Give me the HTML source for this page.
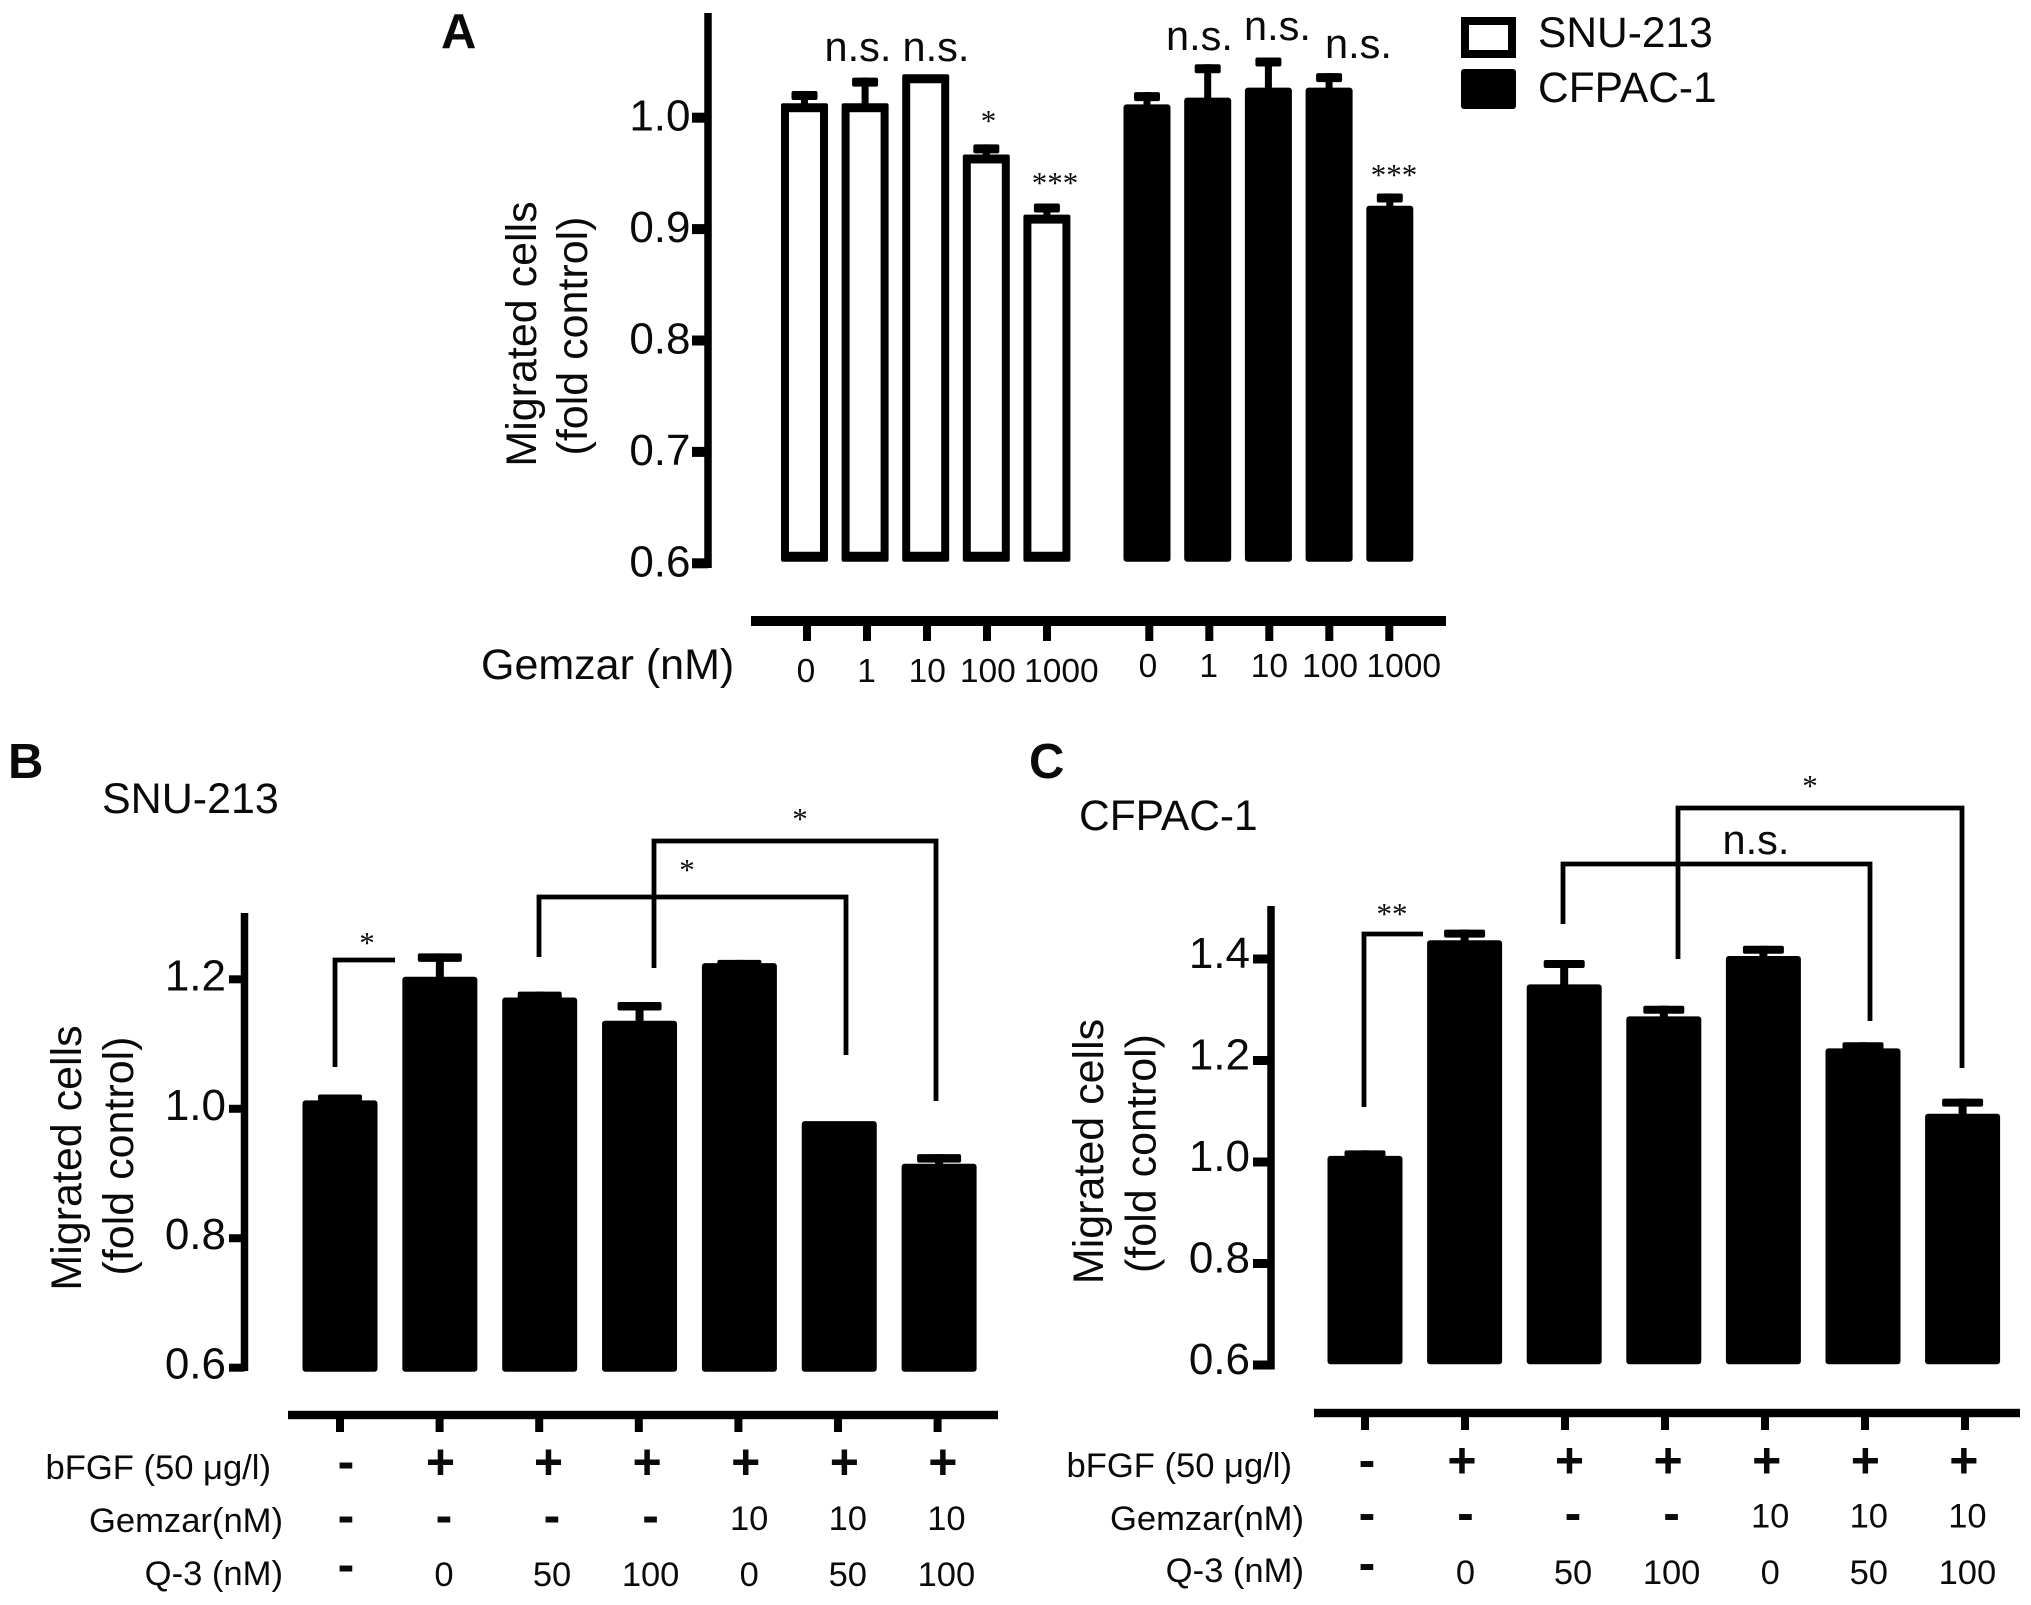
<!DOCTYPE html>
<html lang="en">
<head>
<meta charset="utf-8">
<title>Migrated cells bar charts</title>
<style>
html,body{margin:0;padding:0;background:#fff;}
svg{display:block;}
text{font-family:"Liberation Sans",Arial,sans-serif;fill:#0a0a0a;}
.star{font-family:"Liberation Serif",serif;font-size:31px;text-anchor:middle;}
.ns{font-size:41.5px;text-anchor:middle;}
.ylab{font-size:43px;text-anchor:middle;}
.row{font-size:34.6px;text-anchor:end;}
.br{fill:none;stroke:#000;stroke-width:4.8;}
</style>
</head>
<body>
<svg id="figure" xmlns="http://www.w3.org/2000/svg" width="2031" height="1605" viewBox="0 0 2031 1605">
<rect x="0" y="0" width="2031" height="1605" fill="#fff"/>

<!-- Panel A static text -->
<text x="441" y="48" font-size="49" font-weight="bold">A</text>
<text class="ylab" transform="translate(536,334) rotate(-90)">Migrated cells</text>
<text class="ylab" transform="translate(587,336) rotate(-90)">(fold control)</text>
<text x="481" y="679" font-size="43">Gemzar (nM)</text>
<text class="ns" x="858" y="61">n.s.</text>
<text class="ns" x="936" y="61">n.s.</text>
<text class="ns" x="1199.5" y="50">n.s.</text>
<text class="ns" x="1277.5" y="40">n.s.</text>
<text class="ns" x="1358.5" y="58">n.s.</text>
<text class="star" x="988.5" y="131">*</text>
<text class="star" x="1055" y="193">***</text>
<text class="star" x="1394" y="185">***</text>
<rect x="1465" y="21" width="47" height="33" fill="#fff" stroke="#000" stroke-width="8"/>
<rect x="1461" y="69" width="55" height="40" rx="3" fill="#000"/>
<text x="1538" y="47" font-size="42.5">SNU-213</text>
<text x="1538" y="102" font-size="42.5">CFPAC-1</text>

<!-- Panel B static text -->
<text x="8" y="778" font-size="49" font-weight="bold">B</text>
<text x="102" y="813" font-size="43">SNU-213</text>
<text class="ylab" transform="translate(81,1158) rotate(-90)">Migrated cells</text>
<text class="ylab" transform="translate(133,1156) rotate(-90)">(fold control)</text>
<text class="row" x="271" y="1479">bFGF (50 μg/l)</text>
<text class="row" x="283" y="1532">Gemzar(nM)</text>
<text class="row" x="283" y="1585">Q-3 (nM)</text>
<polyline class="br" points="335,1067 335,960 395,960"/>
<polyline class="br" points="539,957 539,897 846,897 846,1055"/>
<polyline class="br" points="654,968 654,841 936,841 936,1101"/>
<text class="star" x="367" y="953">*</text>
<text class="star" x="687" y="880">*</text>
<text class="star" x="800" y="829">*</text>

<!-- Panel C static text -->
<text x="1029" y="778" font-size="49" font-weight="bold">C</text>
<text x="1079" y="830" font-size="42.5">CFPAC-1</text>
<text class="ylab" transform="translate(1103,1151.5) rotate(-90)">Migrated cells</text>
<text class="ylab" transform="translate(1155.5,1153.5) rotate(-90)">(fold control)</text>
<text class="row" x="1292" y="1477">bFGF (50 μg/l)</text>
<text class="row" x="1304" y="1530">Gemzar(nM)</text>
<text class="row" x="1304" y="1582">Q-3 (nM)</text>
<polyline class="br" points="1364,1107 1364,934 1423,934"/>
<polyline class="br" points="1563,924 1563,864 1870,864 1870,1021"/>
<polyline class="br" points="1678,959 1678,808 1962,808 1962,1068"/>
<text class="star" x="1392" y="924">**</text>
<text class="ns" x="1756" y="854">n.s.</text>
<text class="star" x="1810" y="796">*</text>
</svg>

<script>
// Panel A data
const aDoses = ['0', '1', '10', '100', '1000'];
const aSnu = [1.013, 1.013, 1.039, 0.967, 0.913];
const aSnuErr = [1.024, 1.036, 1.039, 0.976, 0.923];
const aCfpac = [1.012, 1.018, 1.027, 1.027, 0.921];
const aCfpacErr = [1.023, 1.048, 1.054, 1.040, 0.932];
const aTicks = ['0.6', '0.7', '0.8', '0.9', '1.0'];

// Panel B data
const bValues = [1.013, 1.204, 1.172, 1.136, 1.225, 0.981, 0.915];
const bErrors = [1.022, 1.240, 1.181, 1.165, 1.230, 0.981, 0.930];
const bTicks = ['0.6', '0.8', '1.0', '1.2'];

// Panel C data
const cValues = [1.012, 1.437, 1.350, 1.287, 1.406, 1.224, 1.095];
const cErrors = [1.023, 1.458, 1.398, 1.308, 1.426, 1.236, 1.125];
const cTicks = ['0.6', '0.8', '1.0', '1.2', '1.4'];

// Treatment rows shared by panels B and C
const bfgfRow = ['-', '+', '+', '+', '+', '+', '+'];
const gemzarRow = ['-', '-', '-', '-', '10', '10', '10'];
const q3Row = ['-', '0', '50', '100', '0', '50', '100'];

const svg = document.getElementById('figure');
const NS = 'http://www.w3.org/2000/svg';

function shape(tag, attrs) {
  const el = document.createElementNS(NS, tag);
  for (const k in attrs) el.setAttribute(k, attrs[k]);
  
  svg.appendChild(el);
  return el;
}

function drawBar(prefix, i, cx, w, value, err, base, yScale, hollow, capW, capH, stemW) {
  const top = yScale(value);
  const bottom = yScale(base);
  if (err > value) {
    const capTop = yScale(err);
    const stem = shape('rect', {x: cx - stemW / 2, y: capTop, width: stemW, height: top - capTop + 2, fill: '#000'});
    
    const cap = shape('rect', {x: cx - capW / 2, y: capTop, width: capW, height: capH, rx: 2, fill: '#000'});
    
  }
  if (hollow) {
    const outer = shape('rect', {x: cx - w / 2, y: top, width: w, height: bottom - top, rx: 2, fill: '#000'});
    
    const inner = shape('rect', {x: cx - w / 2 + 8, y: top + 9, width: w - 16, height: bottom - top - 19, fill: '#fff'});
    
  } else {
    const bar = shape('rect', {x: cx - w / 2, y: top, width: w, height: bottom - top, rx: 3, fill: '#000'});
    
  }
}

function drawYAxis(prefix, axisX, top, bottom, ticks, yScale, labelX, tickLeft, tickH, labelDy) {
  const line = shape('rect', {x: axisX - 3.75, y: top, width: 7.5, height: bottom - top, fill: '#000'});
  
  ticks.forEach(function (t) {
    const y = yScale(parseFloat(t));
    const mark = shape('rect', {x: tickLeft, y: y - tickH / 2, width: axisX - tickLeft, height: tickH, fill: '#000'});
    
    const lab = shape('text', {x: labelX, y: y + labelDy, 'font-size': 44, 'text-anchor': 'end'});
    lab.textContent = t;
    
  });
}

function drawXAxis(prefix, x0, x1, y, thick, count, xScale, tickEnd) {
  const line = shape('rect', {x: x0, y: y - thick / 2, width: x1 - x0, height: thick, fill: '#000'});
  
  for (let i = 0; i < count; i++) {
    const tick = shape('rect', {x: xScale(i) - 4, y: y, width: 8, height: tickEnd - y, fill: '#000'});
    
  }
}

function cellText(prefix, txt, x, y) {
  const isSign = txt === '+' || txt === '-';
  const el = shape('text', {
    x: txt === '+' ? x - 3.5 : x, y: y,
    'font-size': isSign ? 50 : 34.5,
    'font-weight': isSign ? 'bold' : 'normal',
    'text-anchor': 'middle'
  });
  el.textContent = txt;
  
}

function drawRows(prefix, labelX, plusY, dash1, dash2, dash3, digit2, digit3) {
  bfgfRow.forEach(function (t, i) { cellText(prefix, t, labelX(i), t === '+' ? plusY : dash1); });
  gemzarRow.forEach(function (t, i) { cellText(prefix, t, labelX(i), t === '-' ? dash2 : digit2); });
  q3Row.forEach(function (t, i) { cellText(prefix, t, labelX(i), t === '-' ? dash3 : digit3); });
}

// ---- Panel A ----
const yA = function (v) { return 117.7 + (1 - v) * 1114; };
const xASnu = function (i) { return 804.5 + i * 60.6; };
const xACfpac = function (i) { return 1147 + i * 60.7; };
const xATick = function (i) { return i < 5 ? 807 + i * 60 : 1149.3 + (i - 5) * 60; };
drawYAxis('panel-a', 708, 13, 568, aTicks, yA, 690.5, 692, 10, 13);
aSnu.forEach(function (v, i) {
  drawBar('panel-a-snu', i, xASnu(i), 47, v, aSnuErr[i], 0.6014, yA, true, 26, 9, 7);
});
aCfpac.forEach(function (v, i) {
  drawBar('panel-a-cfpac', i, xACfpac(i), 47, v, aCfpacErr[i], 0.6014, yA, false, 26, 9, 7);
});
drawXAxis('panel-a', 751, 1446, 621, 10, 10, xATick, 641);
aDoses.forEach(function (d, i) {
  const n = d.length === 4 ? 13 : 0;
  const s = shape('text', {x: xASnu(i) + 1.5 + n, y: 682, 'font-size': 33.5, 'text-anchor': 'middle'});
  s.textContent = d;
  
  const c = shape('text', {x: xACfpac(i) + 1 + n, y: 677, 'font-size': 33.5, 'text-anchor': 'middle'});
  c.textContent = d;
  
});

// ---- Panel B ----
const yB = function (v) { return 1367.7 - (v - 0.6) * 647.3; };
const xB = function (i) { return 340 + i * 99.85; };
drawYAxis('panel-b', 244.5, 913, 1371, bTicks, yB, 226, 229, 8, 11);
bValues.forEach(function (v, i) {
  drawBar('panel-b', i, xB(i), 75, v, bErrors[i], 0.5938, yB, false, 44, 8.5, 8);
});
drawXAxis('panel-b', 288, 998, 1415, 8.4, 7, function (i) { return 340 + i * 99.6; }, 1432);
drawRows('panel-b', function (i) { return i < 2 ? 346 + i * 98 : 552 + (i - 2) * 98.6; }, 1479, 1478.5, 1532.5, 1581.5, 1530, 1586);

// ---- Panel C ----
const yC = function (v) { return 1365 - (v - 0.6) * 507.5; };
const xC = function (i) { return 1365 + i * 99.6; };
drawYAxis('panel-c', 1271, 906, 1369.5, cTicks, yC, 1250, 1253, 9, 9);
cValues.forEach(function (v, i) {
  drawBar('panel-c', i, xC(i), 75, v, cErrors[i], 0.6014, yC, false, 41, 8, 8);
});
drawXAxis('panel-c', 1314, 2020, 1413, 8.4, 7, function (i) { return 1365 + i * 100; }, 1430);
drawRows('panel-c', function (i) { return i < 2 ? 1367 + i * 98.5 : 1573 + (i - 2) * 98.6; }, 1477.5, 1476.8, 1530.2, 1580.2, 1527.7, 1584);
</script>
</body>
</html>
